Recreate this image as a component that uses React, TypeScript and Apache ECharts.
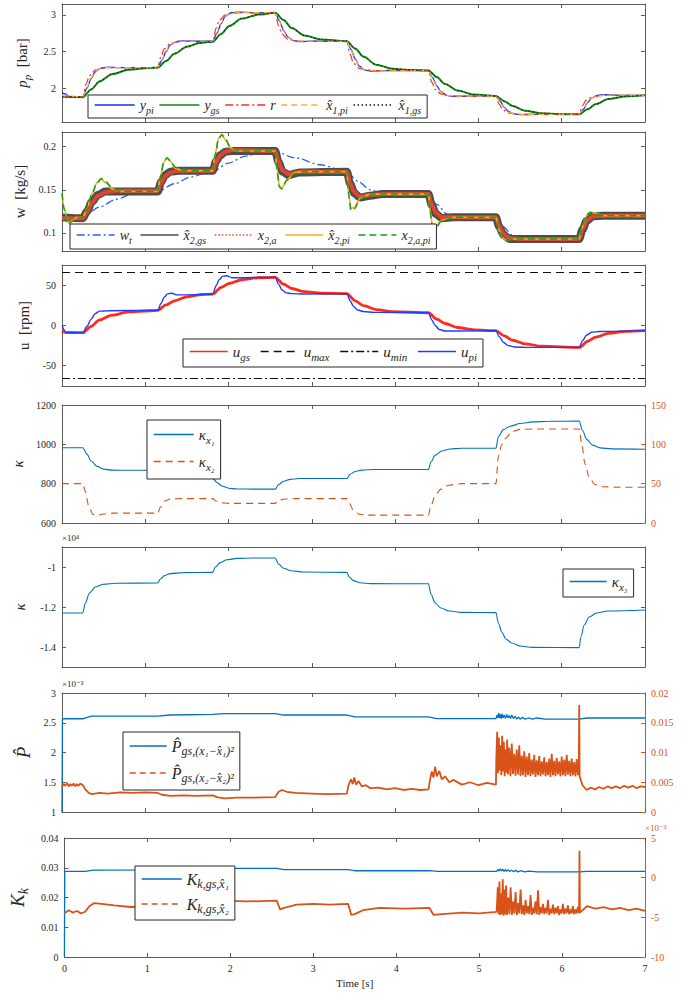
import React, { useEffect, useRef } from 'react';
import * as echarts from 'echarts';

// ---------------- data ----------------
const timeTicks = [0, 1, 2, 3, 4, 5, 6, 7];

// Panel 1: p_p [bar]
const yPi = [[0,1.93],[0.04,1.92],[0.08,1.885],[0.25,1.88],[0.30,2.0],[0.35,2.13],[0.40,2.22],[0.46,2.27],[0.55,2.285],[0.7,2.28],[1.15,2.28],[1.20,2.38],[1.25,2.50],[1.30,2.59],[1.37,2.635],[1.45,2.645],[1.6,2.64],[1.81,2.64],[1.86,2.75],[1.91,2.88],[1.96,2.98],[2.03,3.03],[2.12,3.04],[2.3,3.03],[2.56,3.03],[2.61,2.92],[2.66,2.79],[2.71,2.70],[2.78,2.65],[2.86,2.635],[3.0,2.64],[3.42,2.64],[3.47,2.53],[3.52,2.40],[3.57,2.30],[3.64,2.245],[3.72,2.23],[3.9,2.24],[4.40,2.24],[4.45,2.14],[4.50,2.03],[4.55,1.95],[4.62,1.90],[4.70,1.885],[4.9,1.89],[5.21,1.89],[5.26,1.82],[5.31,1.735],[5.36,1.68],[5.43,1.645],[5.51,1.635],[5.7,1.64],[6.21,1.64],[6.26,1.71],[6.31,1.80],[6.36,1.865],[6.43,1.90],[6.51,1.91],[6.7,1.90],[7,1.90]];
const yGs = [[0,1.88],[0.25,1.875],[0.35,1.98],[0.45,2.09],[0.60,2.19],[0.80,2.25],[1.05,2.275],[1.15,2.28],[1.25,2.37],[1.35,2.47],[1.50,2.565],[1.65,2.615],[1.81,2.635],[1.91,2.74],[2.01,2.85],[2.16,2.95],[2.36,3.005],[2.56,3.03],[2.66,2.93],[2.76,2.82],[2.91,2.72],[3.11,2.665],[3.42,2.64],[3.52,2.54],[3.62,2.43],[3.77,2.32],[3.97,2.265],[4.2,2.245],[4.40,2.24],[4.50,2.15],[4.60,2.055],[4.75,1.965],[4.95,1.91],[5.21,1.89],[5.31,1.82],[5.41,1.755],[5.56,1.69],[5.76,1.655],[6.0,1.642],[6.21,1.64],[6.31,1.71],[6.41,1.78],[6.56,1.85],[6.76,1.885],[7,1.90]];
const rRef = [[0,1.88],[0.25,1.88],[0.29,2.06],[0.33,2.17],[0.4,2.245],[0.5,2.275],[0.6,2.28],[1.15,2.28],[1.19,2.44],[1.23,2.54],[1.3,2.61],[1.4,2.635],[1.5,2.64],[1.81,2.64],[1.85,2.82],[1.89,2.93],[1.96,3.0],[2.06,3.025],[2.16,3.03],[2.56,3.03],[2.60,2.85],[2.64,2.74],[2.71,2.67],[2.81,2.645],[2.91,2.64],[3.42,2.64],[3.46,2.46],[3.50,2.34],[3.57,2.27],[3.67,2.245],[3.77,2.24],[4.40,2.24],[4.44,2.08],[4.48,1.98],[4.55,1.92],[4.65,1.895],[4.75,1.89],[5.21,1.89],[5.25,1.775],[5.29,1.705],[5.36,1.66],[5.46,1.645],[5.56,1.64],[6.21,1.64],[6.25,1.76],[6.29,1.83],[6.36,1.875],[6.46,1.895],[6.56,1.90],[7,1.90]];
const x1HatPi = [[0,1.90],[0.05,1.89],[0.25,1.88],[0.3,2.01],[0.35,2.14],[0.4,2.225],[0.46,2.27],[0.55,2.28],[1.15,2.28],[1.2,2.39],[1.25,2.51],[1.3,2.595],[1.37,2.635],[1.5,2.64],[1.81,2.64],[1.86,2.76],[1.91,2.89],[1.96,2.98],[2.03,3.025],[2.15,3.035],[2.56,3.03],[2.61,2.91],[2.66,2.78],[2.71,2.695],[2.78,2.65],[2.9,2.64],[3.42,2.64],[3.47,2.52],[3.52,2.39],[3.57,2.30],[3.64,2.25],[3.75,2.235],[4.4,2.24],[4.45,2.13],[4.5,2.02],[4.55,1.945],[4.62,1.90],[4.72,1.888],[5.21,1.89],[5.26,1.81],[5.31,1.73],[5.36,1.675],[5.43,1.645],[5.55,1.638],[6.21,1.64],[6.26,1.715],[6.31,1.805],[6.36,1.865],[6.43,1.897],[6.55,1.905],[7,1.90]];
const x1HatGs = [[0,1.88],[0.25,1.878],[0.35,1.985],[0.45,2.095],[0.6,2.195],[0.8,2.253],[1.05,2.276],[1.15,2.28],[1.25,2.375],[1.35,2.475],[1.5,2.568],[1.65,2.617],[1.81,2.636],[1.91,2.745],[2.01,2.855],[2.16,2.952],[2.36,3.006],[2.56,3.03],[2.66,2.925],[2.76,2.815],[2.91,2.718],[3.11,2.664],[3.42,2.641],[3.52,2.535],[3.62,2.425],[3.77,2.318],[3.97,2.264],[4.2,2.244],[4.4,2.24],[4.5,2.147],[4.6,2.052],[4.75,1.963],[4.95,1.91],[5.21,1.891],[5.31,1.818],[5.41,1.752],[5.56,1.688],[5.76,1.654],[6.0,1.642],[6.21,1.64],[6.31,1.712],[6.41,1.782],[6.56,1.852],[6.76,1.886],[7,1.9]];

// Panel 2: w [kg/s]
const wT = [[0,0.118],[0.25,0.118],[0.45,0.13],[0.65,0.139],[0.85,0.145],[1.0,0.148],[1.15,0.148],[1.35,0.157],[1.55,0.165],[1.78,0.171],[1.81,0.171],[2.0,0.181],[2.2,0.189],[2.4,0.193],[2.56,0.194],[2.8,0.187],[3.1,0.179],[3.42,0.171],[3.55,0.16],[3.7,0.15],[3.85,0.145],[4.4,0.145],[4.5,0.133],[4.62,0.122],[4.75,0.118],[5.21,0.118],[5.3,0.107],[5.4,0.098],[5.5,0.094],[6.21,0.094],[6.28,0.106],[6.36,0.115],[6.5,0.12],[7,0.12]];
const x2HatGs = [[0,0.118],[0.25,0.117],[0.3,0.125],[0.36,0.136],[0.43,0.144],[0.52,0.148],[0.65,0.148],[1.15,0.148],[1.19,0.159],[1.24,0.167],[1.3,0.171],[1.4,0.172],[1.81,0.172],[1.85,0.183],[1.9,0.19],[1.96,0.194],[2.05,0.195],[2.56,0.195],[2.6,0.182],[2.65,0.171],[2.72,0.167],[2.85,0.17],[3.42,0.171],[3.46,0.157],[3.51,0.146],[3.58,0.141],[3.7,0.143],[3.85,0.145],[4.4,0.145],[4.44,0.132],[4.49,0.122],[4.56,0.117],[4.7,0.118],[5.21,0.118],[5.25,0.107],[5.3,0.098],[5.37,0.093],[5.5,0.093],[6.21,0.093],[6.25,0.104],[6.3,0.114],[6.37,0.119],[6.5,0.12],[7,0.12]];
const x2A = [[0,0.117],[0.25,0.117],[0.3,0.124],[0.36,0.135],[0.43,0.143],[0.52,0.147],[0.65,0.149],[1.15,0.149],[1.19,0.158],[1.24,0.166],[1.3,0.17],[1.4,0.172],[1.81,0.172],[1.85,0.182],[1.9,0.19],[1.96,0.194],[2.05,0.196],[2.56,0.195],[2.6,0.183],[2.65,0.172],[2.72,0.168],[2.85,0.171],[3.42,0.171],[3.46,0.158],[3.51,0.147],[3.58,0.142],[3.7,0.144],[3.85,0.145],[4.4,0.145],[4.44,0.133],[4.49,0.123],[4.56,0.118],[4.7,0.118],[5.21,0.118],[5.25,0.108],[5.3,0.099],[5.37,0.094],[5.5,0.093],[6.21,0.093],[6.25,0.104],[6.3,0.114],[6.37,0.119],[6.5,0.12],[7,0.12]];
const x2HatPi = [[0,0.146],[0.03,0.128],[0.07,0.112],[0.12,0.114],[0.18,0.118],[0.25,0.118],[0.3,0.128],[0.36,0.146],[0.42,0.158],[0.47,0.162],[0.53,0.158],[0.6,0.151],[0.7,0.148],[1.15,0.148],[1.18,0.165],[1.22,0.182],[1.26,0.187],[1.3,0.183],[1.36,0.175],[1.45,0.172],[1.81,0.172],[1.84,0.192],[1.88,0.21],[1.92,0.214],[1.96,0.208],[2.02,0.199],[2.1,0.195],[2.56,0.195],[2.58,0.175],[2.61,0.155],[2.64,0.152],[2.7,0.162],[2.8,0.17],[2.9,0.171],[3.42,0.171],[3.44,0.146],[3.47,0.128],[3.51,0.13],[3.58,0.14],[3.7,0.145],[4.4,0.145],[4.42,0.125],[4.45,0.108],[4.49,0.108],[4.56,0.115],[4.7,0.118],[5.21,0.118],[5.24,0.105],[5.28,0.095],[5.33,0.092],[5.42,0.093],[6.21,0.093],[6.24,0.105],[6.29,0.119],[6.34,0.124],[6.4,0.123],[6.5,0.12],[7,0.12]];
const x2APi = [[0,0.146],[0.03,0.126],[0.07,0.11],[0.12,0.113],[0.18,0.118],[0.25,0.118],[0.3,0.127],[0.36,0.145],[0.42,0.158],[0.47,0.163],[0.53,0.159],[0.6,0.152],[0.7,0.148],[1.15,0.148],[1.18,0.164],[1.22,0.181],[1.26,0.187],[1.3,0.184],[1.36,0.176],[1.45,0.172],[1.81,0.172],[1.84,0.191],[1.88,0.209],[1.92,0.214],[1.96,0.209],[2.02,0.2],[2.1,0.195],[2.56,0.195],[2.58,0.174],[2.61,0.153],[2.64,0.151],[2.7,0.161],[2.8,0.169],[2.9,0.171],[3.42,0.171],[3.44,0.145],[3.47,0.126],[3.51,0.128],[3.58,0.139],[3.7,0.145],[4.4,0.145],[4.42,0.124],[4.45,0.106],[4.49,0.106],[4.56,0.114],[4.7,0.118],[5.21,0.118],[5.24,0.104],[5.28,0.094],[5.33,0.092],[5.42,0.093],[6.21,0.093],[6.24,0.106],[6.29,0.12],[6.34,0.124],[6.4,0.122],[6.5,0.12],[7,0.12]];

// Panel 3: u [rpm]
const uGs = [[0,-7],[0.05,-9],[0.25,-9],[0.35,-1],[0.45,7],[0.6,13],[0.8,17],[1.05,18.5],[1.15,19],[1.25,26],[1.35,31],[1.5,36],[1.65,38.5],[1.81,39.5],[1.91,48],[2.01,53],[2.16,57.5],[2.36,60],[2.56,60.5],[2.66,52],[2.76,46.5],[2.91,42.5],[3.11,40.5],[3.42,40],[3.52,31],[3.62,25],[3.77,20],[3.97,17.5],[4.4,16],[4.5,8],[4.6,2.5],[4.75,-2.5],[4.95,-5.5],[5.21,-6.5],[5.31,-13],[5.41,-18.5],[5.56,-23],[5.76,-26],[6.21,-27.5],[6.31,-20],[6.41,-14.5],[6.56,-10],[6.76,-7.5],[7,-6.5]];
const uPi = [[0,0],[0.05,-8.5],[0.25,-9],[0.3,-1],[0.35,8],[0.4,15],[0.45,18],[0.55,18.5],[1.15,19],[1.19,28],[1.23,36],[1.27,40],[1.32,40.5],[1.38,38.5],[1.5,38.5],[1.81,39.5],[1.85,50],[1.89,58],[1.93,62],[1.98,62.5],[2.04,60],[2.15,60],[2.56,60.5],[2.6,52],[2.64,45],[2.69,41],[2.76,40],[2.9,39.5],[3.42,40],[3.46,31],[3.5,24],[3.55,19.5],[3.62,17.5],[3.75,16.5],[4.4,16],[4.44,7],[4.48,0],[4.53,-5],[4.6,-7],[4.75,-7],[5.21,-6.5],[5.25,-14],[5.3,-21],[5.35,-25],[5.43,-27],[5.6,-27.5],[6.21,-27.5],[6.25,-19],[6.3,-12],[6.36,-8.5],[6.45,-7.5],[7,-6.5]];
const uMax = [[0,66.5],[7,66.5]];
const uMin = [[0,-66.5],[7,-66.5]];

// Panel 4: kappa_x1 (left), kappa_x2 (right)
const kx1 = [[0,983],[0.25,983],[0.3,950],[0.35,915],[0.42,888],[0.5,874],[0.6,869],[0.8,868],[1.15,868],[1.2,850],[1.27,836],[1.36,829],[1.5,827],[1.81,827],[1.86,806],[1.92,788],[2.0,777],[2.1,773],[2.3,772],[2.56,772],[2.6,795],[2.66,812],[2.74,822],[2.85,826],[3.42,826],[3.46,848],[3.52,862],[3.6,869],[3.75,872],[4.4,872],[4.43,910],[4.48,945],[4.56,966],[4.66,976],[4.8,980],[5.21,980],[5.24,1040],[5.3,1075],[5.38,1092],[5.5,1106],[5.65,1114],[5.85,1117],[6.21,1118],[6.25,1070],[6.3,1025],[6.37,996],[6.46,982],[6.6,977],[7,975]];
const kx2 = [[0,50],[0.25,50],[0.28,40],[0.32,22],[0.37,11],[0.42,9.5],[0.5,11.5],[0.6,12.5],[1.15,12.5],[1.18,20],[1.23,28],[1.3,30.5],[1.45,31],[1.81,31],[1.85,28],[1.9,26],[2.0,25],[2.56,25],[2.6,29],[2.68,30.5],[2.8,31],[3.42,31],[3.45,25],[3.5,16],[3.56,11.5],[3.65,10],[3.8,10],[4.4,10],[4.43,22],[4.48,35],[4.55,43],[4.65,48],[4.8,50],[5.21,50],[5.24,85],[5.28,100],[5.33,108],[5.4,116],[5.5,119],[5.7,119.5],[6.21,119.5],[6.24,100],[6.28,75],[6.33,58],[6.4,49],[6.5,46],[6.7,45.5],[7,45.5]];

// Panel 5: kappa_x3
const kx3 = [[0,-12300],[0.25,-12300],[0.28,-11800],[0.33,-11300],[0.4,-11000],[0.5,-10860],[0.65,-10810],[1.15,-10800],[1.18,-10600],[1.23,-10430],[1.3,-10330],[1.45,-10280],[1.81,-10270],[1.84,-10000],[1.9,-9780],[1.98,-9640],[2.1,-9570],[2.3,-9550],[2.56,-9550],[2.6,-9850],[2.66,-10060],[2.75,-10190],[2.9,-10250],[3.42,-10270],[3.45,-10500],[3.5,-10680],[3.58,-10790],[3.7,-10830],[4.4,-10840],[4.43,-11350],[4.48,-11800],[4.55,-12050],[4.65,-12200],[4.8,-12270],[5.21,-12280],[5.24,-12800],[5.28,-13250],[5.33,-13600],[5.4,-13800],[5.5,-13950],[5.65,-14020],[6.21,-14030],[6.23,-13500],[6.27,-12900],[6.33,-12500],[6.42,-12300],[6.55,-12200],[7,-12150]];

// Panel 6: P-hat
const pHat1 = [[0,0.001],[0.005,0.002567],[0.25,0.002567],[0.35,0.00261],[1.15,0.00261],[1.3,0.00263],[1.81,0.00264],[1.95,0.002655],[2.56,0.002655],[2.66,0.00263],[3.42,0.00263],[3.52,0.0026],[4.4,0.0026],[4.5,0.00257],[5.21,0.00257],[5.225,0.00263],[5.235,0.00258],[5.245,0.00266],[5.255,0.00258],[5.265,0.00264],[5.275,0.00257],[5.285,0.00265],[5.295,0.00258],[5.31,0.00263],[5.325,0.00257],[5.34,0.00264],[5.355,0.00258],[5.37,0.00262],[5.385,0.00257],[5.4,0.00263],[5.42,0.00257],[5.44,0.00261],[5.46,0.00256],[5.48,0.0026],[5.5,0.00256],[5.53,0.00259],[5.56,0.00256],[5.6,0.00258],[5.65,0.00256],[5.7,0.00258],[5.8,0.00256],[6.0,0.00256],[6.21,0.00256],[6.3,0.00258],[7,0.00258]];
const pHat2 = [[0,0.0042],[0.02,0.0047],[0.04,0.0044],[0.06,0.0049],[0.08,0.0043],[0.1,0.0047],[0.12,0.0044],[0.14,0.0048],[0.16,0.0043],[0.18,0.0047],[0.2,0.0044],[0.22,0.0048],[0.25,0.0045],[0.28,0.0038],[0.32,0.0032],[0.36,0.003],[0.45,0.0032],[0.55,0.0031],[0.7,0.0033],[0.85,0.0032],[1.0,0.0033],[1.15,0.0032],[1.2,0.0029],[1.3,0.0027],[1.45,0.0028],[1.6,0.0027],[1.81,0.0028],[1.86,0.0025],[1.95,0.0023],[2.1,0.0024],[2.3,0.0024],[2.56,0.0025],[2.6,0.0034],[2.64,0.0037],[2.7,0.0034],[2.8,0.0032],[3.0,0.0031],[3.2,0.003],[3.42,0.0031],[3.44,0.0045],[3.47,0.0055],[3.49,0.0047],[3.51,0.0058],[3.53,0.0046],[3.56,0.0052],[3.6,0.0043],[3.65,0.0045],[3.7,0.004],[3.8,0.0041],[3.9,0.0038],[4.0,0.004],[4.1,0.0037],[4.2,0.0039],[4.3,0.0037],[4.4,0.0038],[4.42,0.0055],[4.44,0.0068],[4.46,0.0058],[4.48,0.0076],[4.5,0.006],[4.53,0.0069],[4.56,0.0055],[4.6,0.006],[4.65,0.005],[4.7,0.0054],[4.8,0.0046],[4.9,0.005],[5.0,0.0045],[5.1,0.0049],[5.21,0.0046],
  [5.215,0.009],[5.225,0.0135],[5.235,0.0065],[5.245,0.0125],[5.255,0.007],[5.265,0.0112],[5.275,0.0062],[5.285,0.0128],[5.295,0.0068],[5.305,0.0118],[5.315,0.006],[5.325,0.0105],[5.335,0.0066],[5.345,0.0122],[5.355,0.0063],[5.37,0.0108],[5.385,0.006],[5.4,0.0115],[5.415,0.0064],[5.43,0.0098],[5.445,0.0061],[5.46,0.0105],[5.475,0.0063],[5.49,0.0112],[5.505,0.006],[5.52,0.0095],[5.535,0.0062],[5.55,0.0102],[5.565,0.0059],[5.58,0.0093],[5.595,0.0062],[5.61,0.0099],[5.625,0.006],[5.64,0.0088],[5.655,0.0063],[5.67,0.0096],[5.685,0.0059],[5.7,0.0087],[5.715,0.0062],[5.73,0.0094],[5.745,0.006],[5.76,0.0085],[5.775,0.0063],[5.79,0.0092],[5.805,0.006],[5.82,0.0084],[5.835,0.0062],[5.85,0.009],[5.865,0.0059],[5.88,0.0098],[5.895,0.0062],[5.91,0.0086],[5.925,0.006],[5.94,0.0091],[5.955,0.0063],[5.97,0.0085],[5.985,0.006],[6.0,0.0093],[6.015,0.0062],[6.03,0.0088],[6.045,0.006],[6.06,0.0096],[6.075,0.0063],[6.09,0.0086],[6.105,0.006],[6.12,0.009],[6.135,0.0062],[6.15,0.0084],[6.165,0.006],[6.18,0.0089],[6.195,0.0062],[6.205,0.0075],[6.21,0.018],[6.215,0.006],
  [6.25,0.0045],[6.3,0.0037],[6.35,0.0041],[6.4,0.0038],[6.45,0.0042],[6.5,0.0039],[6.55,0.0043],[6.6,0.004],[6.65,0.0043],[6.7,0.004],[6.75,0.0044],[6.8,0.0041],[6.85,0.0044],[6.9,0.004],[6.95,0.0043],[7,0.0042]];

// Panel 7: K_k
const kGain1 = [[0,0],[0.004,0.0288],[0.25,0.0288],[0.35,0.0292],[1.15,0.0293],[1.3,0.0295],[1.81,0.0296],[1.9,0.0298],[2.56,0.0298],[2.65,0.0294],[3.42,0.0294],[3.5,0.029],[4.4,0.029],[4.5,0.0288],[5.21,0.0288],[5.225,0.0294],[5.24,0.0289],[5.255,0.0296],[5.27,0.0289],[5.285,0.0295],[5.3,0.0288],[5.315,0.0294],[5.33,0.0288],[5.35,0.0293],[5.37,0.0287],[5.39,0.0292],[5.41,0.0287],[5.44,0.0291],[5.47,0.0286],[5.5,0.029],[5.55,0.0286],[5.6,0.0289],[5.7,0.0286],[6.0,0.0286],[6.21,0.0286],[6.3,0.0288],[7,0.0288]];
const kGain2 = [[0,-0.0045],[0.05,-0.0041],[0.1,-0.0044],[0.15,-0.0042],[0.2,-0.0045],[0.25,-0.0043],[0.3,-0.0036],[0.36,-0.0032],[0.45,-0.0033],[0.6,-0.0035],[0.8,-0.0037],[1.15,-0.0036],[1.2,-0.0032],[1.81,-0.0031],[1.86,-0.0029],[2.2,-0.003],[2.56,-0.0029],[2.6,-0.004],[2.65,-0.0038],[2.8,-0.0034],[3.0,-0.0033],[3.2,-0.0034],[3.42,-0.0033],[3.46,-0.0047],[3.5,-0.0046],[3.6,-0.0041],[3.8,-0.0038],[4.1,-0.0039],[4.4,-0.0038],[4.45,-0.0047],[4.55,-0.0046],[4.8,-0.0044],[5.0,-0.0045],[5.21,-0.0043],
  [5.215,-0.0035],[5.225,-0.0012],[5.235,-0.0046],[5.245,-0.0005],[5.255,-0.0047],[5.265,-0.002],[5.275,-0.0046],[5.285,-0.0002],[5.295,-0.0048],[5.305,-0.0015],[5.315,-0.0046],[5.325,-0.001],[5.335,-0.0047],[5.35,-0.0025],[5.365,-0.0046],[5.38,-0.0012],[5.395,-0.0047],[5.41,-0.003],[5.425,-0.0045],[5.44,-0.0018],[5.455,-0.0047],[5.47,-0.0032],[5.485,-0.0045],[5.5,-0.0015],[5.515,-0.0046],[5.53,-0.0035],[5.545,-0.0047],[5.56,-0.0028],[5.575,-0.0045],[5.59,-0.0036],[5.605,-0.0046],[5.62,-0.0022],[5.635,-0.0047],[5.65,-0.0038],[5.665,-0.0045],[5.68,-0.003],[5.695,-0.0046],[5.71,-0.0016],[5.725,-0.0047],[5.74,-0.0037],[5.755,-0.0045],[5.77,-0.0033],[5.785,-0.0046],[5.8,-0.0038],[5.815,-0.0045],[5.83,-0.0028],[5.845,-0.0047],[5.86,-0.0039],[5.875,-0.0045],[5.89,-0.0034],[5.905,-0.0046],[5.92,-0.0038],[5.935,-0.0045],[5.95,-0.0036],[5.965,-0.0047],[5.98,-0.004],[5.995,-0.0045],[6.01,-0.0033],[6.025,-0.0046],[6.04,-0.0039],[6.055,-0.0045],[6.07,-0.0035],[6.085,-0.0046],[6.1,-0.004],[6.115,-0.0045],[6.13,-0.0036],[6.145,-0.0046],[6.16,-0.004],[6.175,-0.0045],[6.19,-0.0037],[6.205,-0.0045],[6.21,0.0034],[6.215,-0.0044],
  [6.3,-0.0036],[6.4,-0.0039],[6.5,-0.0037],[6.6,-0.004],[6.7,-0.0038],[6.8,-0.0041],[6.9,-0.0039],[7,-0.0042]];

// tick values
const pTicks = [2, 2.5, 3];
const wTicks = [0.1, 0.15, 0.2];
const uTicks = [-50, 0, 50];
const kLeftTicks = [600, 800, 1000, 1200];
const kRightTicks = [0, 50, 100, 150];
const k3Ticks = [-14000, -12000, -10000];
const pLeftTicks = [0.001, 0.0015, 0.002, 0.0025, 0.003];
const pRightTicks = [0, 0.005, 0.01, 0.015, 0.02];
const kkLeftTicks = [0, 0.01, 0.02, 0.03, 0.04];
const kkRightTicks = [-0.01, -0.005, 0, 0.005];

// ---------------- styling ----------------
const FONT = "'Liberation Serif', 'DejaVu Serif', serif";
const TXT = '#262626';
const AXIS = '#5c5c5c';
const ORANGE = '#D95319';
const MBLUE = '#0072BD';

const GRIDS = [
  { top: 4, height: 118 },
  { top: 132, height: 119 },
  { top: 265, height: 121 },
  { top: 405, height: 118 },
  { top: 547, height: 120 },
  { top: 693, height: 119 },
  { top: 838, height: 119 },
];

const fmtNum = (v: number) => String(Number(v.toFixed(6)));

const legendText: Record<string, string> = {
  y_pi: '{m|y}{s|pi}',
  y_gs: '{m|y}{s|gs}',
  r: '{m|r}',
  x1hat_pi: '{m|x̂}{s|1,pi}',
  x1hat_gs: '{m|x̂}{s|1,gs}',
  w_t: '{m|w}{s|t}',
  x2hat_gs: '{m|x̂}{s|2,gs}',
  x2_a: '{m|x}{s|2,a}',
  x2hat_pi: '{m|x̂}{s|2,pi}',
  x2_a_pi: '{m|x}{s|2,a,pi}',
  u_gs: '{m|u}{s|gs}',
  u_max: '{m|u}{s|max}',
  u_min: '{m|u}{s|min}',
  u_pi: '{m|u}{s|pi}',
  kx1: '{m|κ}{s|x₁}',
  kx2: '{m|κ}{s|x₂}',
  kx3: '{m|κ}{s|x₃}',
  P1: '{m|P̂}{s|gs,(x₁−x̂₁)²}',
  P2: '{m|P̂}{s|gs,(x₂−x̂₂)²}',
  K1: '{m|K}{s|k,gs,x̂₁}',
  K2: '{m|K}{s|k,gs,x̂₂}',
};

const rich = (size: number) => ({
  m: { fontFamily: FONT, fontStyle: 'italic', fontSize: size, color: TXT, lineHeight: size + 6 },
  s: { fontFamily: FONT, fontStyle: 'italic', fontSize: Math.round(size * 0.72), color: TXT, verticalAlign: 'bottom' },
  r: { fontFamily: FONT, fontSize: size, color: TXT, lineHeight: size + 6 },
});

function xAxes(gi: number) {
  const base = (pos: 'bottom' | 'top') => ({
    gridIndex: gi, type: 'value', min: 0, max: 7, interval: 1, position: pos,
    axisLine: { show: true, onZero: false, lineStyle: { color: AXIS, width: 1 } },
    axisTick: { show: true, inside: true, length: 4, lineStyle: { color: AXIS } },
    axisLabel: { show: gi === 6 && pos === 'bottom', color: TXT, fontFamily: FONT, fontSize: 10, margin: 6,
      customValues: timeTicks, formatter: (v: number) => String(v) },
    splitLine: { show: false },
    name: gi === 6 && pos === 'bottom' ? 'Time [s]' : '',
    nameLocation: 'middle', nameGap: 20,
    nameTextStyle: { fontFamily: FONT, fontSize: 11, color: TXT },
  });
  return [base('bottom'), base('top')];
}

function yAxis(gi: number, pos: 'left' | 'right', min: number, max: number, ticks: number[],
  fmt: (v: number) => string, opts: { color?: string; showLabel?: boolean; name?: string; nameSize?: number; nameGap?: number } = {}) {
  const color = opts.color || AXIS;
  const labelColor = opts.color || TXT;
  return {
    gridIndex: gi, type: 'value', min, max, position: pos,
    axisLine: { show: true, onZero: false, lineStyle: { color, width: 1 } },
    axisTick: { show: true, inside: true, length: 4, customValues: ticks, lineStyle: { color } },
    axisLabel: { show: opts.showLabel !== false, customValues: ticks, formatter: fmt, color: labelColor,
      fontFamily: FONT, fontSize: 10, margin: 6 },
    splitLine: { show: false },
    name: opts.name || '',
    nameLocation: 'middle', nameGap: opts.nameGap || 28, nameRotate: 90,
    nameTextStyle: { rich: rich(opts.nameSize || 15), fontFamily: FONT, fontSize: opts.nameSize || 15, color: TXT },
  };
}

function ln(name: string, data: number[][], gi: number, yi: number, color: string, width: number,
  type: any = 'solid', smooth = true, opacity = 1) {
  return {
    name, type: 'line', data, xAxisIndex: gi * 2, yAxisIndex: yi, symbol: 'none', showSymbol: false,
    smooth: smooth ? 0.3 : false, smoothMonotone: 'x', clip: true, silent: true,
    lineStyle: { color, width, type, opacity }, itemStyle: { color },
  };
}

function legend(names: string[], left: number, top: number, orient: 'horizontal' | 'vertical',
  size: number, itemWidth: number, itemGap: number, padding: number[], items: Record<string, any> = {}) {
  return {
    show: true, left, top, orient, itemWidth, itemHeight: 12, itemGap, padding,
    borderColor: '#262626', borderWidth: 1, backgroundColor: '#ffffff', selectedMode: false,
    data: names.map((n) => ({ name: n, ...(items[n] || {}) })),
    itemStyle: { opacity: 0, borderWidth: 0 },
    lineStyle: { width: 1.4, opacity: 1 },
    formatter: (n: string) => legendText[n] || n,
    textStyle: { rich: rich(size), fontFamily: FONT, fontSize: size, color: TXT },
  };
}

function buildOption() {
  const dashDot = [8, 3, 2, 3];
  const series = [
    // panel 1
    ln('y_pi', yPi, 0, 0, '#1030ff', 1.3),
    ln('y_gs', yGs, 0, 0, '#13891a', 2.0),
    ln('r', rRef, 0, 0, '#ff2a2a', 1.2, dashDot),
    ln('x1hat_pi', x1HatPi, 0, 0, '#f2b43c', 1.2, [6, 4]),
    ln('x1hat_gs', x1HatGs, 0, 0, '#111111', 0.9, [1.5, 2.5]),
    // panel 2
    ln('w_t', wT, 1, 2, '#2a5cff', 1.3, dashDot),
    ln('x2hat_gs', x2HatGs, 1, 2, '#4d4d4d', 8),
    ln('x2_a', x2A, 1, 2, '#f0452d', 4, 'solid', true, 0.9),
    ln('x2hat_pi', x2HatPi, 1, 2, '#f2b01e', 1.6),
    ln('x2_a_pi', x2APi, 1, 2, '#16a016', 1.5, [7, 4]),
    // panel 3
    ln('u_gs', uGs, 2, 4, '#ff2a1a', 2.8),
    ln('u_max', uMax, 2, 4, '#111111', 1.1, [8, 5], false),
    ln('u_min', uMin, 2, 4, '#111111', 1.1, dashDot, false),
    ln('u_pi', uPi, 2, 4, '#1f3cff', 1.4),
    // panel 4
    ln('kx1', kx1, 3, 6, MBLUE, 1.1),
    ln('kx2', kx2, 3, 7, ORANGE, 1.1, [7, 5]),
    // panel 5
    ln('kx3', kx3, 4, 8, MBLUE, 1.1),
    // panel 6
    ln('P1', pHat1, 5, 10, MBLUE, 1.3, 'solid', false),
    ln('P2', pHat2, 5, 11, ORANGE, 1.8, 'solid', false),
    // panel 7
    ln('K1', kGain1, 6, 12, MBLUE, 1.3, 'solid', false),
    ln('K2', kGain2, 6, 13, ORANGE, 1.8, 'solid', false),
  ];

  const xAxis = GRIDS.flatMap((_, i) => xAxes(i));
  const yAxes = [
    yAxis(0, 'left', 1.535, 3.15, pTicks, fmtNum, { name: '{m|p}{s|p}{r|  [bar]}', nameGap: 22 }),
    yAxis(0, 'right', 1.535, 3.15, pTicks, fmtNum, { showLabel: false }),
    yAxis(1, 'left', 0.079, 0.217, wTicks, fmtNum, { name: '{r|w  [kg/s]}', nameGap: 29 }),
    yAxis(1, 'right', 0.079, 0.217, wTicks, fmtNum, { showLabel: false }),
    yAxis(2, 'left', -76, 76, uTicks, fmtNum, { name: '{r|u  [rpm]}', nameGap: 22 }),
    yAxis(2, 'right', -76, 76, uTicks, fmtNum, { showLabel: false }),
    yAxis(3, 'left', 600, 1200, kLeftTicks, fmtNum, { name: '{m|κ}', nameGap: 30 }),
    yAxis(3, 'right', 0, 150, kRightTicks, fmtNum, { color: ORANGE }),
    yAxis(4, 'left', -15000, -9000, k3Ticks, (v: number) => fmtNum(v / 10000), { name: '{m|κ}', nameGap: 32 }),
    yAxis(4, 'right', -15000, -9000, k3Ticks, fmtNum, { showLabel: false }),
    yAxis(5, 'left', 0.001, 0.003, pLeftTicks, (v: number) => fmtNum(v * 1000), { name: '{m|P̂}', nameGap: 20, nameSize: 19 }),
    yAxis(5, 'right', 0, 0.02, pRightTicks, fmtNum, { color: ORANGE }),
    yAxis(6, 'left', 0, 0.04, kkLeftTicks, fmtNum, { name: '{m|K}{s|k}', nameGap: 24, nameSize: 19 }),
    yAxis(6, 'right', -0.01, 0.005, kkRightTicks, (v: number) => fmtNum(v * 1000), { color: ORANGE }),
  ];

  const dashedItem = { lineStyle: { type: [6, 4] } };

  return {
    animation: false,
    backgroundColor: '#ffffff',
    textStyle: { fontFamily: FONT },
    grid: GRIDS.map((g) => ({ left: 62, width: 583, top: g.top, height: g.height, containLabel: false })),
    xAxis,
    yAxis: yAxes,
    legend: [
      legend(['y_pi', 'y_gs', 'r', 'x1hat_pi', 'x1hat_gs'], 88, 95, 'horizontal', 14, 40, 5, [3, 6, 3, 6]),
      legend(['w_t', 'x2hat_gs', 'x2_a', 'x2hat_pi', 'x2_a_pi'], 70, 224, 'horizontal', 14, 38, 8, [4, 6, 4, 6],
        { x2hat_gs: { lineStyle: { width: 1.4 } }, x2_a: { lineStyle: { width: 1.4, type: [1.5, 2] } } }),
      legend(['u_gs', 'u_max', 'u_min', 'u_pi'], 183, 339, 'horizontal', 15, 38, 10, [5, 6, 5, 6]),
      legend(['kx1', 'kx2'], 147, 420, 'vertical', 15, 40, 9, [7, 6, 7, 6]),
      legend(['kx3'], 563, 569, 'vertical', 15, 37, 8, [5, 6, 5, 6]),
      legend(['P1', 'P2'], 123, 732, 'vertical', 16, 37, 8, [6, 6, 6, 6], { P2: dashedItem }),
      legend(['K1', 'K2'], 135, 866, 'vertical', 16, 40, 6, [5, 6, 5, 6], { K2: dashedItem }),
    ],
    graphic: [
      { type: 'text', left: 62, top: 533, style: { text: '×10⁴', fontFamily: FONT, fontSize: 9, fill: TXT } },
      { type: 'text', left: 62, top: 679, style: { text: '×10⁻³', fontFamily: FONT, fontSize: 9, fill: TXT } },
      { type: 'text', left: 645, top: 823, style: { text: '×10⁻³', fontFamily: FONT, fontSize: 9, fill: ORANGE } },
    ],
    series,
  };
}

export default function App() {
  const ref = useRef<HTMLDivElement>(null);
  useEffect(() => {
    const el = ref.current;
    if (!el) return;
    const chart = echarts.init(el, undefined, { renderer: 'svg' });
    chart.setOption(buildOption() as any);
    return () => chart.dispose();
  }, []);
  return (
    <div
      ref={ref}
      style={{ position: 'absolute', left: 0, top: 0, width: 682, height: 993, background: '#fff' }}
    />
  );
}
